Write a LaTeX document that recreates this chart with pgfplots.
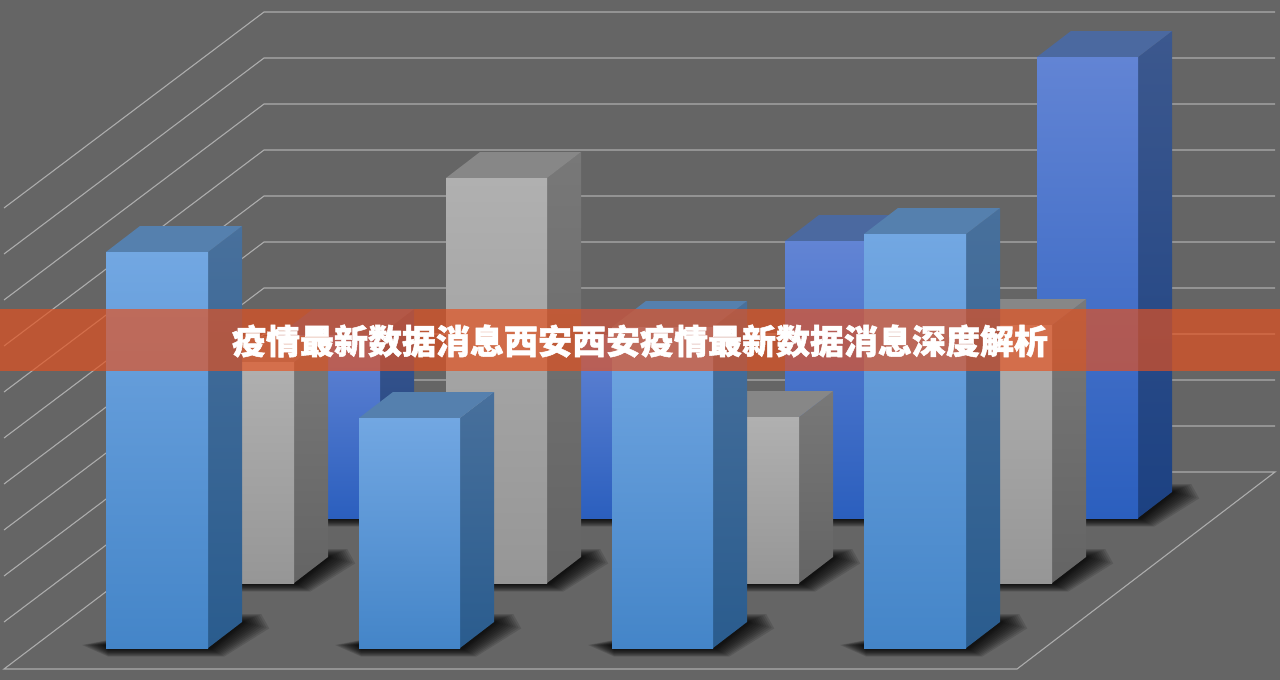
\documentclass[border=0pt]{standalone}
\usepackage{pgfplots}
\pgfplotsset{compat=1.18}
\usepackage{fontspec}
\newfontfamily\cjk[BoldFeatures={FakeBold=1.5}]{Noto Sans CJK SC}

% face colours: front top/bottom, side top/bottom, lid
\definecolor{bgc}{RGB}{101,101,101}
\definecolor{wire}{RGB}{172,172,172}
\definecolor{lbft}{RGB}{114,167,226}
\definecolor{lbfb}{RGB}{68,133,200}
\definecolor{lbst}{RGB}{72,112,156}
\definecolor{lbsb}{RGB}{42,92,142}
\definecolor{lblid}{RGB}{85,128,174}
\definecolor{dbft}{RGB}{98,132,212}
\definecolor{dbfb}{RGB}{43,95,190}
\definecolor{dbst}{RGB}{60,88,142}
\definecolor{dbsb}{RGB}{28,65,130}
\definecolor{dblid}{RGB}{75,105,160}
\definecolor{gyft}{RGB}{176,176,176}
\definecolor{gyfb}{RGB}{150,150,150}
\definecolor{gyst}{RGB}{120,120,120}
\definecolor{gysb}{RGB}{100,100,100}
\definecolor{gylid}{RGB}{135,135,135}
\definecolor{band}{RGB}{231,80,28}

% one blurred layer of a floor shadow: left, right, bottom, spread
\newcommand{\shadowlayer}[4]{%
  \pgfmathsetmacro\sa{#1-1.5*#4}\pgfmathsetmacro\sb{#3+0.5+0.5*#4}%
  \pgfmathsetmacro\sc{#2+34+1.7*#4}\pgfmathsetmacro\sd{#3-26-0.5*#4}%
  \pgfmathsetmacro\se{#3-3}\pgfmathsetmacro\sf{#2+34}\pgfmathsetmacro\sg{#2+2+0.9*#4}\pgfmathsetmacro\sh{#1+2}%
  \pgfmathsetmacro\si{#3-26+0.4*#4}\pgfmathsetmacro\sj{#2+34+1.2*#4}%
  \addplot[fill=black,draw=none,fill opacity=0.12] coordinates
    {(\sa,\se) (\sh,\sb) (\sg,\sb) (\sc,\si) (\sj,\sd) (\sf,\sd)} -- cycle;%
}
\newcommand{\floorshadow}[3]{%
  \shadowlayer{#1}{#2}{#3}{16}\shadowlayer{#1}{#2}{#3}{14.5}%
  \shadowlayer{#1}{#2}{#3}{13}\shadowlayer{#1}{#2}{#3}{11.5}%
  \shadowlayer{#1}{#2}{#3}{10}\shadowlayer{#1}{#2}{#3}{8.5}%
  \shadowlayer{#1}{#2}{#3}{7}\shadowlayer{#1}{#2}{#3}{5.5}%
  \shadowlayer{#1}{#2}{#3}{4}\shadowlayer{#1}{#2}{#3}{3}%
  \shadowlayer{#1}{#2}{#3}{2}\shadowlayer{#1}{#2}{#3}{1}%
}
% bar: front left, front right, top, bottom, colour prefix
\newcommand{\boxbar}[5]{%
  \floorshadow{#1}{#2}{#4}%
  \pgfmathsetmacro\xr{#2+34}\pgfmathsetmacro\xl{#1+34}%
  \pgfmathsetmacro\yt{#3-26}\pgfmathsetmacro\yb{#4-26}%
  \addplot[draw=none,top color=#5st,bottom color=#5sb] coordinates
    {(#2,#3) (\xr,\yt) (\xr,\yb) (#2,#4)} -- cycle;%
  \addplot[draw=none,fill=#5lid] coordinates
    {(#1,#3) (\xl,\yt) (\xr,\yt) (#2,#3)} -- cycle;%
  \addplot[draw=none,top color=#5ft,bottom color=#5fb] coordinates
    {(#1,#3) (#2,#3) (#2,#4) (#1,#4)} -- cycle;%
}

\begin{document}
\begin{tikzpicture}
\begin{axis}[
  width=1280pt, height=680pt, scale only axis,
  xmin=0, xmax=1280, ymin=0, ymax=680,
  y dir=reverse,
  hide axis,
]
  % background
  \addplot[fill=bgc,draw=none] coordinates {(0,0) (1280,0) (1280,680) (0,680)} -- cycle;

  % back wall and side wall wires
  \addplot[wire,line width=1.1pt] coordinates {(4,208) (264,12) (1275,12)};
  \addplot[wire,line width=1.1pt] coordinates {(4,254) (264,58) (1275,58)};
  \addplot[wire,line width=1.1pt] coordinates {(4,300) (264,104) (1275,104)};
  \addplot[wire,line width=1.1pt] coordinates {(4,346) (264,150) (1275,150)};
  \addplot[wire,line width=1.1pt] coordinates {(4,392) (264,196) (1275,196)};
  \addplot[wire,line width=1.1pt] coordinates {(4,438) (264,242) (1275,242)};
  \addplot[wire,line width=1.1pt] coordinates {(4,484) (264,288) (1275,288)};
  \addplot[wire,line width=1.1pt] coordinates {(4,530) (264,334) (1275,334)};
  \addplot[wire,line width=1.1pt] coordinates {(4,576) (264,380) (1275,380)};
  \addplot[wire,line width=1.1pt] coordinates {(4,622) (264,426) (1275,426)};
  % floor
  \addplot[wire,line width=1.1pt] coordinates {(4,669) (264,472) (1275,472) (1017,669)} -- cycle;

  % back row
  \boxbar{279}{380}{335}{518}{db}
  \boxbar{532}{633}{335}{518}{db}
  \boxbar{785}{886}{241}{518}{db}
  \boxbar{1037}{1138}{57}{518}{db}
  % middle row
  \boxbar{192}{294}{362}{583}{gy}
  \boxbar{446}{547}{178}{583}{gy}
  \boxbar{698}{799}{417}{583}{gy}
  \boxbar{950}{1052}{325}{583}{gy}
  % front row
  \boxbar{106}{208}{252}{648}{lb}
  \boxbar{359}{460}{418}{648}{lb}
  \boxbar{612}{713}{327}{648}{lb}
  \boxbar{864}{966}{234}{648}{lb}

  % title band
  \addplot[fill=band,draw=none,fill opacity=0.67] coordinates {(0,309) (1280,309) (1280,371) (0,371)} -- cycle;
  \node[text=white,inner sep=0pt,font=\cjk\bfseries\fontsize{34}{34}\selectfont] at (axis cs:640,341)
    {疫情最新数据消息西安西安疫情最新数据消息深度解析};
\end{axis}
\end{tikzpicture}
\end{document}
